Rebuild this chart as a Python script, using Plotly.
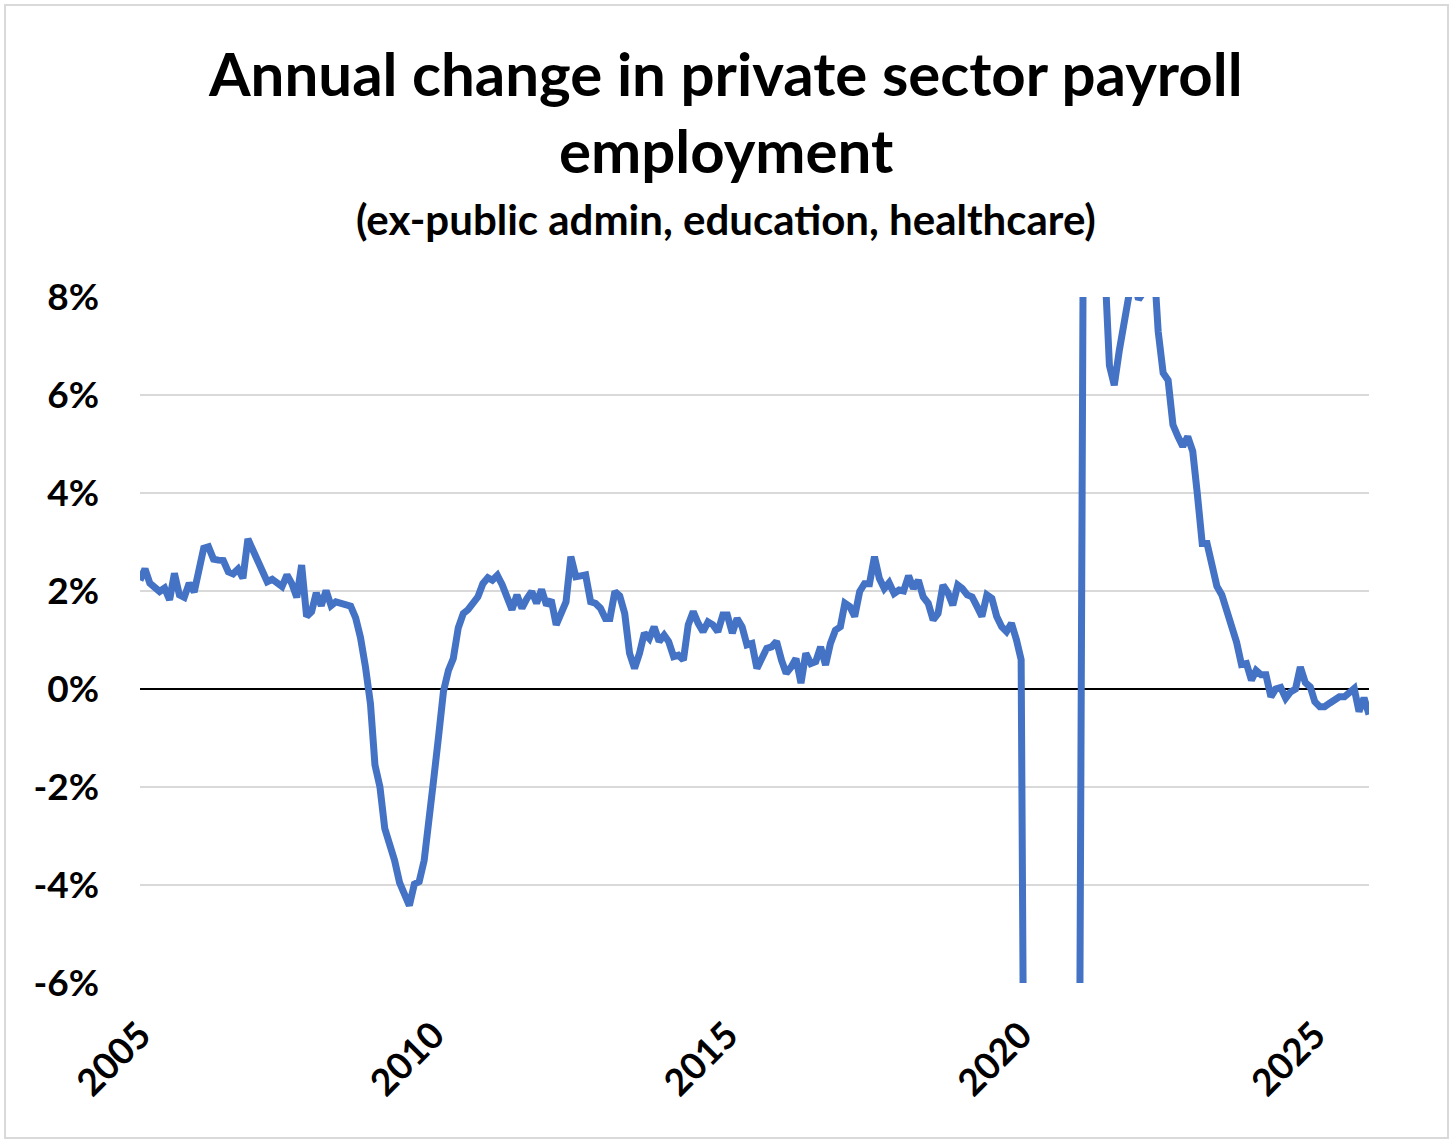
import pandas as pd
import plotly.graph_objects as go

# 年度变化（%），月度数据，2005年3月起
START_MONTH = "2005-03-01"

yoy_2005_2009 = [
    2.22, 2.45, 2.16, 2.09, 1.99, 2.06, 1.82, 2.36, 1.92, 1.87, 2.16, 1.98,
    2.40, 2.87, 2.90, 2.65, 2.63, 2.62, 2.39, 2.35, 2.45, 2.26, 3.06, 2.82,
    2.62, 2.45, 2.19, 2.24, 2.17, 2.09, 2.33, 2.15, 1.87, 2.53, 1.48, 1.58,
    1.96, 1.70, 2.01, 1.70, 1.78, 1.74, 1.70, 1.69, 1.45, 1.05, 0.45, -0.30,
    -1.55, -2.00, -2.85, -3.15, -3.50, -3.95, -4.15, -4.42, -3.98, -3.93, -3.50, -2.75,
]
yoy_2010_2014 = [
    -1.85, -0.95, -0.05, 0.38, 0.62, 1.25, 1.54, 1.62, 1.73, 1.88, 2.15, 2.27,
    2.22, 2.32, 2.13, 1.84, 1.62, 1.92, 1.65, 1.84, 1.99, 1.75, 2.03, 1.71,
    1.82, 1.31, 1.51, 1.78, 2.70, 2.29, 2.31, 2.33, 1.78, 1.75, 1.65, 1.44,
    1.44, 1.99, 1.90, 1.54, 0.73, 0.42, 0.73, 1.14, 1.03, 1.27, 0.97, 1.10,
    0.97, 0.66, 0.69, 0.59, 1.31, 1.58, 1.34, 1.17, 1.37, 1.31, 1.17, 1.51,
]
yoy_2015_2019 = [
    1.51, 1.14, 1.44, 1.27, 0.90, 0.93, 0.42, 0.66, 0.83, 0.86, 0.97, 0.59,
    0.32, 0.45, 0.62, 0.12, 0.73, 0.52, 0.56, 0.86, 0.49, 0.93, 1.20, 1.27,
    1.75, 1.68, 1.48, 1.99, 2.15, 2.15, 2.70, 2.26, 2.05, 2.17, 1.95, 2.02,
    2.00, 2.31, 2.05, 2.22, 1.88, 1.75, 1.41, 1.54, 2.12, 1.97, 1.71, 2.12,
    2.05, 1.92, 1.88, 1.68, 1.48, 1.92, 1.85, 1.48, 1.27, 1.17, 1.34, 1.00,
]
yoy_2020_2026 = [
    0.60, -16.5, -12.0, -9.5, -8.5, -8.0, -7.8, -7.5, -7.6, -7.2, -7.0, -7.3,
    -6.5, 16.5, 12.0, 10.0, 9.5, 8.8, 6.6, 6.2, 6.9, 7.4, 8.05, 8.3,
    7.95, 8.1, 8.5, 8.9, 7.3, 6.45, 6.3, 5.39, 5.15, 4.95, 5.15, 4.85,
    4.0, 2.97, 2.97, 2.43, 2.1, 1.92, 1.6, 1.38, 0.95, 0.5, 0.52, 0.18,
    0.38, 0.29, 0.29, -0.16, 0.0, 0.03, -0.19, -0.06, 0.0, 0.45, 0.13, 0.04,
    -0.26, -0.36, -0.36, -0.29, -0.24, -0.16, -0.16, -0.08, 0.01, -0.46, -0.18, -0.52,
]
yoy = yoy_2005_2009 + yoy_2010_2014 + yoy_2015_2019 + yoy_2020_2026
months = pd.date_range(START_MONTH, periods=len(yoy), freq="MS")

tick_years = ["2005", "2010", "2015", "2020", "2025"]
tick_dates = [f"{y}-03-01" for y in tick_years]
y_ticks = [-6, -4, -2, 0, 2, 4, 6, 8]
y_labels = [f"{v}%" for v in y_ticks]

FONT = "Lato"

fig = go.Figure()
fig.add_trace(go.Scatter(
    x=months, y=yoy, mode="lines",
    line=dict(color="#4472C4", width=7),
    showlegend=False, hoverinfo="skip",
))

# 标题（三行，分别放置）
titles = [
    ("<b>Annual change in private sector payroll</b>", 1.326, 60),
    ("<b>employment</b>", 1.214, 60),
    ("<b>(ex-public admin, education, healthcare)</b>", 1.114, 42),
]
annotations = [
    dict(text=t, x=0.4768, y=y, xref="paper", yref="paper",
         xanchor="center", yanchor="middle", showarrow=False,
         font=dict(family=FONT, size=s, color="black"))
    for t, y, s in titles
]

fig.update_layout(
    width=1456, height=1144,
    margin=dict(l=140, r=87, t=297, b=161),
    paper_bgcolor="white", plot_bgcolor="white",
    annotations=annotations,
    shapes=[dict(type="rect", xref="paper", yref="paper",
                 x0=-0.1098, x1=1.0643, y0=-0.226, y1=1.4257,
                 line=dict(color="#d9d9d9", width=2), layer="below")],
)

fig.update_xaxes(
    type="date", range=[months[0], months[-1]],
    tickvals=tick_dates, ticktext=tick_years, tickangle=-45,
    showgrid=False, showline=False, zeroline=False, ticks="",
    ticklabelstandoff=22,
    tickfont=dict(family=FONT, size=37, color="black", weight="bold"),
)
fig.update_yaxes(
    range=[-6, 8], tickvals=y_ticks, ticktext=y_labels,
    showgrid=True, gridcolor="#d9d9d9", gridwidth=2,
    zeroline=True, zerolinecolor="black", zerolinewidth=2,
    showline=False, ticks="", ticklabelstandoff=40,
    tickfont=dict(family=FONT, size=37, color="black", weight="bold"),
)

# 去掉页面默认边距，使图表与窗口对齐；隐藏工具栏
fig.write_html(
    "out.html",
    config={"displayModeBar": False},
    post_script="document.body.style.margin='0';",
)
